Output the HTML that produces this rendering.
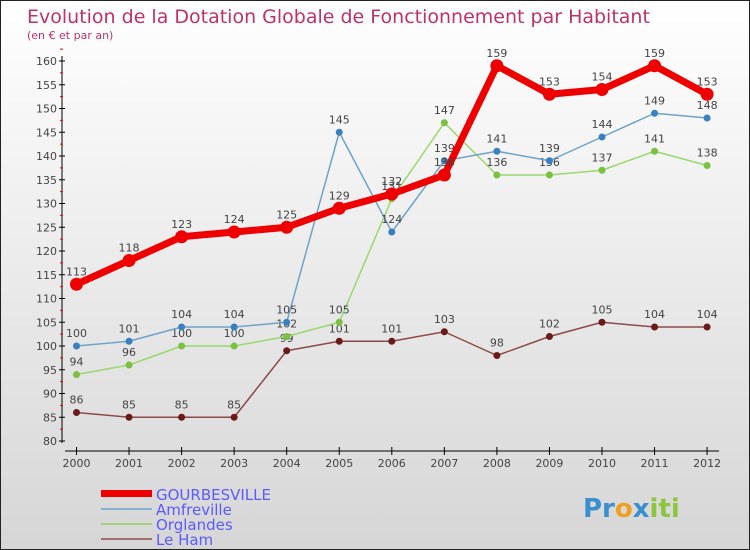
<!DOCTYPE html>
<html><head><meta charset="utf-8"><style>
body{margin:0}
#c{position:relative;width:748px;height:548px;border:1px solid #222;background:linear-gradient(#fff,#d6d6d6);font-family:"DejaVu Sans","Liberation Sans",sans-serif;overflow:hidden}
svg text{font-family:"DejaVu Sans","Liberation Sans",sans-serif}
</style></head><body>
<div id="c">
<svg id="s" width="748" height="548" xmlns="http://www.w3.org/2000/svg">
<text x="26" y="22" font-size="19" fill="#c0306a">Evolution de la Dotation Globale de Fonctionnement par Habitant</text>
<text x="26" y="38" font-size="11" fill="#c0306a">(en € et par an)</text>
<g id="ax"></g><g id="sr"></g>
<g>
<rect x="100" y="489" width="51" height="7" fill="#e00"/>
<text x="155" y="499" font-size="15" fill="#5a5aff">GOURBESVILLE</text>
<line x1="100" y1="508" x2="151" y2="508" stroke="#6fa3c8" stroke-width="1.5"/>
<text x="155" y="514" font-size="15" fill="#5a5aff">Amfreville</text>
<line x1="100" y1="523" x2="151" y2="523" stroke="#8fd060" stroke-width="1.5"/>
<text x="155" y="529" font-size="15" fill="#5a5aff">Orglandes</text>
<line x1="100" y1="538" x2="151" y2="538" stroke="#8b4a4a" stroke-width="1.5"/>
<text x="155" y="544" font-size="15" fill="#5a5aff">Le Ham</text>
</g>
<text x="582" y="516" font-size="26" font-weight="bold" fill="#3a8fd0">Pr<tspan fill="#f0a020">o</tspan><tspan fill="#3a8fd0">x</tspan><tspan fill="#8cc63f">iti</tspan></text>
</svg></div>
<script>
const years=[2000,2001,2002,2003,2004,2005,2006,2007,2008,2009,2010,2011,2012];
const gourbesville=[113,118,123,124,125,129,132,136,159,153,154,159,153];
const amfreville=[100,101,104,104,105,145,124,139,141,139,144,149,148];
const orglandes=[94,96,100,100,102,105,131,147,136,136,137,141,138];
const leHam=[86,85,85,85,99,101,101,103,98,102,105,104,104];
const yTicks=[80,85,90,95,100,105,110,115,120,125,130,135,140,145,150,155,160];
const NS="http://www.w3.org/2000/svg";
const X=i=>75.5+i*52.55, Y=v=>440-(v-80)*4.75;
function mk(p,t,a){const e=document.createElementNS(NS,t);for(const k in a)e.setAttribute(k,a[k]);p.appendChild(e);return e;}
const ax=document.getElementById('ax'),sr=document.getElementById('sr');
let l=mk(ax,'line',{x1:61,y1:55,x2:61,y2:442,stroke:'#000'});


l=mk(ax,'line',{x1:64,y1:450,x2:718,y2:450,stroke:'#000'});


yTicks.forEach(v=>{mk(ax,'line',{x1:58,x2:64,y1:Y(v),y2:Y(v),stroke:'#000'});
mk(ax,'line',{x1:59,x2:62,y1:Y(v+2.5),y2:Y(v+2.5),stroke:'#e00'});
const t=mk(ax,'text',{x:56,y:Y(v)+4,'font-size':11,fill:'#444','text-anchor':'end'});t.textContent=v;

});
years.forEach((y,i)=>{mk(ax,'line',{x1:X(i),x2:X(i),y1:446,y2:454,stroke:'#000'});
const t=mk(ax,'text',{x:X(i),y:466,'font-size':11,fill:'#444','text-anchor':'middle'});t.textContent=y;

});
function series(d,col,w,r,dot,name){const g=mk(sr,'g',{});


mk(g,'polyline',{points:d.map((v,i)=>X(i)+','+Y(v)).join(' '),fill:'none',stroke:col,'stroke-width':w,'stroke-linejoin':'round'});
d.forEach((v,i)=>{const c=mk(g,'circle',{cx:X(i),cy:Y(v),r:r,fill:dot});


const t=mk(g,'text',{x:X(i),y:Y(v)-9,'font-size':11,fill:'#444','text-anchor':'middle'});t.textContent=v;

});}
series(leHam,'#8b4a4a',1.5,3.5,'#6b1a1a','le-ham');
series(orglandes,'#9ad870',1.5,3.5,'#7cc040','orglandes');
series(amfreville,'#6fa3c8',1.5,3.5,'#3a80c0','amfreville');
series(gourbesville,'#e00',7,6.5,'#e00','gourbesville');
</script></body></html>
